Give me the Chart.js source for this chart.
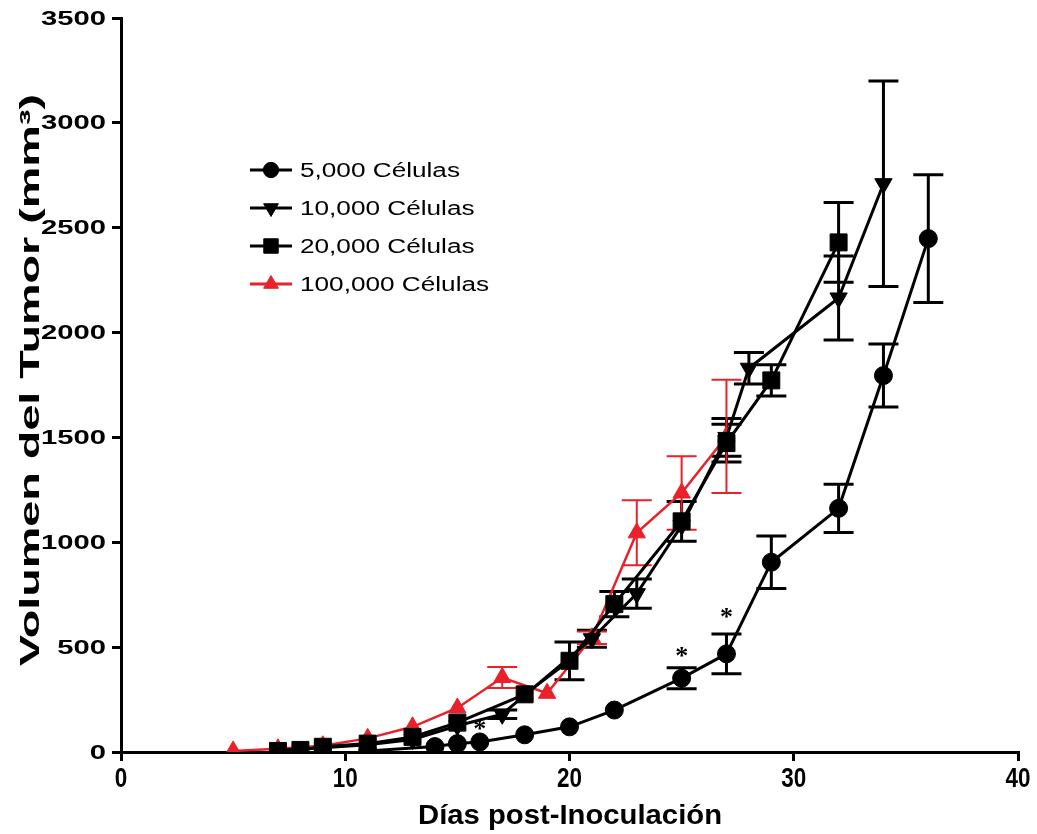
<!DOCTYPE html>
<html><head><meta charset="utf-8">
<script src="https://cdn.jsdelivr.net/npm/chart.js@4.4.0/dist/chart.umd.min.js"></script>
<style>html,body{margin:0;padding:0;background:#fff;}#wrap{width:1037px;height:834px;position:relative;}</style>
</head><body><div id="wrap"><canvas id="c" width="1037" height="834"></canvas></div>
<script>
// ---- data ----
const seriesNames = ['5,000 Células', '10,000 Células', '20,000 Células', '100,000 Células'];

const days5k  = [11, 14, 15, 16, 18, 20, 22, 25, 27, 29, 32, 34, 36];
const vol5k   = [5, 26, 40, 48, 82, 120, 200, 352, 468, 905, 1162, 1795, 2448];
const sem5k   = [0, 0, 0, 0, 0, 0, 0, 50, 95, 125, 115, 150, 305];

const days10k = [7, 9, 11, 13, 15, 17, 21, 23, 25, 27, 28, 32, 34];
const vol10k  = [8, 20, 35, 60, 125, 180, 540, 755, 1080, 1500, 1830, 2165, 2710];
const sem10k  = [0, 0, 0, 0, 0, 20, 40, 70, 0, 90, 75, 200, 490];

const days20k = [7, 8, 9, 11, 13, 15, 18, 20, 22, 25, 27, 29, 32];
const vol20k  = [5, 10, 25, 40, 72, 140, 275, 435, 705, 1100, 1473, 1772, 2430];
const sem20k  = [0, 0, 0, 0, 0, 0, 0, 90, 60, 95, 90, 75, 190];

const days100k = [5, 7, 9, 11, 13, 15, 17, 19, 21, 23, 25, 27];
const vol100k  = [5, 15, 30, 65, 120, 210, 355, 280, 545, 1045, 1235, 1505];
const sem100k  = [0, 0, 0, 0, 0, 0, 50, 0, 30, 155, 175, 270];

const starDays = [16, 25, 27];
const starVals = [130, 477, 663];

const xTicks = [0, 10, 20, 30, 40];
const yTicks = [0, 500, 1000, 1500, 2000, 2500, 3000, 3500];
const xTitle = 'Días post-Inoculación';
const yTitle = 'Volumen del Tumor (mm³)';

// ---- build ----
const pts = (d, v) => d.map((x, i) => ({x: x, y: v[i]}));
const RED = '#e8212b';
const datasets = [
  {label: seriesNames[0], data: pts(days5k, vol5k), sem: sem5k, borderColor: '#000', backgroundColor: '#000',
   pointStyle: 'circle', pointRadius: 9, pointRotation: 0, borderWidth: 3},
  {label: seriesNames[1], data: pts(days10k, vol10k), sem: sem10k, borderColor: '#000', backgroundColor: '#000',
   pointStyle: 'triangle', pointRadius: 10, pointRotation: 180, borderWidth: 3},
  {label: seriesNames[2], data: pts(days20k, vol20k), sem: sem20k, borderColor: '#000', backgroundColor: '#000',
   pointStyle: 'rect', pointRadius: 12, pointRotation: 0, borderWidth: 3},
  {label: seriesNames[3], data: pts(days100k, vol100k), sem: sem100k, borderColor: RED, backgroundColor: RED,
   pointStyle: 'triangle', pointRadius: 10, pointRotation: 0, borderWidth: 2.5}
].map(d => Object.assign(d, {tension: 0, fill: false, pointBorderWidth: 1, pointBorderColor: d.borderColor, pointBackgroundColor: d.backgroundColor}));

function stretchText(ctx, text, x, y, font, sx, align, baseline, rot) {
  ctx.save();
  ctx.translate(x, y);
  if (rot) ctx.rotate(rot);
  ctx.font = font;
  ctx.scale(sx, 1);
  ctx.textAlign = align;
  ctx.textBaseline = baseline;
  ctx.fillStyle = '#000';
  ctx.fillText(text, 0, 0);
  ctx.restore();
}
function widthOf(ctx, text, font) { ctx.save(); ctx.font = font; const w = ctx.measureText(text).width; ctx.restore(); return w; }

const errorBars = {
  id: 'errorBars',
  beforeDatasetsDraw(chart) {
    const ctx = chart.ctx, xs = chart.scales.x, ys = chart.scales.y;
    chart.data.datasets.forEach((ds) => {
      ctx.save();
      ctx.strokeStyle = ds.borderColor;
      ctx.lineWidth = ds.borderColor === '#000' ? 3 : 2;
      ds.data.forEach((p, i) => {
        const e = ds.sem[i];
        if (!e) return;
        const px = xs.getPixelForValue(p.x);
        const yt = ys.getPixelForValue(p.y + e), yb = ys.getPixelForValue(p.y - e);
        const hw = 15;
        ctx.beginPath();
        ctx.moveTo(px, yt); ctx.lineTo(px, yb);
        ctx.moveTo(px - hw, yt); ctx.lineTo(px + hw, yt);
        ctx.moveTo(px - hw, yb); ctx.lineTo(px + hw, yb);
        ctx.stroke();
      });
      ctx.restore();
    });
  }
};

const textLayer = {
  id: 'textLayer',
  afterDraw(chart) {
    const ctx = chart.ctx, xs = chart.scales.x, ys = chart.scales.y;
    // y tick labels
    const yFont = 'bold 20px "Liberation Sans", Arial, sans-serif';
    const ySx = 65 / widthOf(ctx, '3500', yFont);
    yTicks.forEach(v => stretchText(ctx, String(v), 106, ys.getPixelForValue(v) + 1, yFont, ySx, 'right', 'middle'));
    // x tick labels
    const xFont = 'bold 28px "Liberation Sans", Arial, sans-serif';
    const xSx = 25 / widthOf(ctx, '10', xFont);
    xTicks.forEach(v => stretchText(ctx, String(v), xs.getPixelForValue(v), 779, xFont, xSx, 'center', 'middle'));
    // axis titles
    const tFont = 'bold 28px "Liberation Sans", Arial, sans-serif';
    stretchText(ctx, xTitle, 570, 816, tFont, 304 / widthOf(ctx, xTitle, tFont), 'center', 'middle');
    stretchText(ctx, yTitle, 31, 380, tFont, 572 / widthOf(ctx, yTitle, tFont), 'center', 'middle', -Math.PI / 2);
    // significance stars
    starDays.forEach((d, i) => {
      stretchText(ctx, '*', xs.getPixelForValue(d), ys.getPixelForValue(starVals[i]) + 12, 'bold 26px "Liberation Serif", serif', 1, 'center', 'alphabetic');
    });
    // legend
    const lFont = '20px "Liberation Sans", Arial, sans-serif';
    const lSx = 160 / widthOf(ctx, seriesNames[0], lFont);
    const rowY = [170, 208, 246, 284];
    chart.data.datasets.forEach((ds, i) => {
      const y = rowY[i];
      ctx.save();
      ctx.strokeStyle = ds.borderColor; ctx.lineWidth = 3;
      ctx.beginPath(); ctx.moveTo(250, y); ctx.lineTo(292, y); ctx.stroke();
      ctx.fillStyle = ds.backgroundColor;
      Chart.helpers.drawPoint(ctx, {pointStyle: ds.pointStyle, rotation: ds.pointRotation, borderWidth: 1}, 271, y);
      ctx.restore();
      ctx.save(); ctx.fillStyle = ds.backgroundColor; ctx.strokeStyle = ds.borderColor;
      Chart.helpers.drawPoint(ctx, {pointStyle: ds.pointStyle, rotation: ds.pointRotation, radius: ds.pointRadius * 0.85, borderWidth: 1}, 271, y);
      ctx.restore();
      stretchText(ctx, ds.label, 300, y + 1, lFont, lSx, 'left', 'middle');
    });
  }
};

new Chart(document.getElementById('c'), {
  type: 'line',
  data: {datasets: datasets},
  options: {
    responsive: false, animation: false, devicePixelRatio: 1,
    layout: {padding: {top: 18, right: 19, left: 0, bottom: 0}},
    plugins: {legend: {display: false}, tooltip: {enabled: false}},
    scales: {
      x: {type: 'linear', min: 0, max: 40,
          ticks: {stepSize: 10, display: false},
          grid: {display: true, drawOnChartArea: false, drawTicks: true, tickLength: 9, color: '#000', lineWidth: 3},
          border: {display: true, color: '#000', width: 3},
          afterFit: s => { s.height = 82; }},
      y: {type: 'linear', min: 0, max: 3500,
          ticks: {stepSize: 500, display: false},
          grid: {display: true, drawOnChartArea: false, drawTicks: true, tickLength: 9, color: '#000', lineWidth: 3},
          border: {display: true, color: '#000', width: 3},
          afterFit: s => { s.width = 121; }}
    }
  },
  plugins: [errorBars, textLayer]
});
</script></body></html>
